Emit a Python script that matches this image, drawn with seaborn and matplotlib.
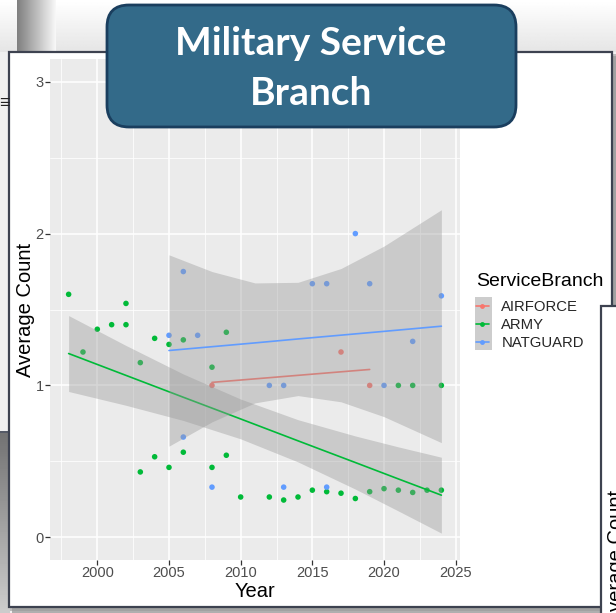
import numpy as np
import pandas as pd
import seaborn as sns
import matplotlib.pyplot as plt
from matplotlib.patches import Rectangle, FancyBboxPatch
from matplotlib.lines import Line2D

# ------------------------------------------------------------------------------
# points (average count per year)
air_years = [2008, 2017, 2019]
air_vals = [1.0, 1.22, 1.0]

army_years = [1998, 1999, 2000, 2001, 2002, 2002, 2003, 2003, 2004, 2004, 2005, 2005,
              2006, 2006, 2008, 2008, 2009, 2009, 2010, 2012, 2013, 2014, 2015, 2016,
              2017, 2018, 2019, 2020, 2021, 2021, 2022, 2022, 2023, 2024, 2024]
army_vals = [1.60, 1.22, 1.37, 1.40, 1.54, 1.40, 1.15, 0.43, 1.31, 0.53, 1.27, 0.46,
             1.30, 0.56, 1.12, 0.46, 1.35, 0.54, 0.265, 0.265, 0.245, 0.265, 0.31, 0.30,
             0.29, 0.255, 0.30, 0.32, 0.31, 1.0, 0.295, 1.0, 0.31, 0.31, 1.0]

nat_years = [2005, 2006, 2006, 2007, 2008, 2012, 2013, 2013, 2015, 2016, 2016, 2018,
             2019, 2020, 2022, 2024]
nat_vals = [1.33, 1.75, 0.66, 1.33, 0.33, 1.0, 1.0, 0.33, 1.67, 1.67, 0.33, 2.0,
            1.67, 1.0, 1.29, 1.59]

# linear trends and their confidence bands
air_fit_years = [2008, 2019]
air_fit = [1.02, 1.105]

army_fit_years = [1998, 2002, 2006, 2010, 2014, 2018, 2021, 2024]
army_fit = [1.21, 1.066, 0.922, 0.779, 0.635, 0.492, 0.384, 0.277]
army_lo = [0.96, 0.869, 0.769, 0.648, 0.496, 0.317, 0.173, 0.027]
army_hi = [1.46, 1.263, 1.075, 0.910, 0.774, 0.667, 0.595, 0.527]

nat_fit_years = [2005, 2008, 2011, 2014, 2017, 2020, 2024]
nat_fit = [1.23, 1.255, 1.28, 1.306, 1.331, 1.356, 1.39]
nat_lo = [0.60, 0.76, 0.885, 0.933, 0.892, 0.794, 0.623]
nat_hi = [1.86, 1.75, 1.675, 1.679, 1.77, 1.918, 2.157]

branches = ['AIRFORCE', 'ARMY', 'NATGUARD']
colors = ['#F8766D', '#00BA38', '#619CFF']
pal = dict(zip(branches, colors))

pts = pd.concat([
    pd.DataFrame({'Year': air_years, 'Count': air_vals, 'ServiceBranch': 'AIRFORCE'}),
    pd.DataFrame({'Year': army_years, 'Count': army_vals, 'ServiceBranch': 'ARMY'}),
    pd.DataFrame({'Year': nat_years, 'Count': nat_vals, 'ServiceBranch': 'NATGUARD'}),
])

# ------------------------------------------------------------------------------
sns.set_theme(style='darkgrid', rc={'axes.facecolor': '#EBEBEB', 'grid.color': 'white'})
plt.rcParams['font.family'] = ['Liberation Sans', 'DejaVu Sans']

W, H = 616, 613
fig = plt.figure(figsize=(W / 100, H / 100), dpi=100)
fig.patch.set_facecolor('#F1F1F1')

# slide background (pixel coordinates)
bg = fig.add_axes([0, 0, 1, 1], zorder=0)
bg.axis('off')
top = np.linspace(1.0, 0.90, 40)[:, None] * np.ones((1, 2))
bg.imshow(top, extent=(0, W, 52, 0), origin='upper', aspect='auto', cmap='gray',
          vmin=0, vmax=1, interpolation='bilinear')
grad = np.ones((2, 1)) * np.linspace(0.50, 0.97, 40)[None, :]
bg.imshow(grad, extent=(17, 56, 52, 0), origin='upper', aspect='auto', cmap='gray',
          vmin=0, vmax=1, interpolation='bilinear')
grad2 = np.linspace(0.45, 0.80, 40)[:, None] * np.ones((1, 2))
bg.imshow(grad2, extent=(0, 10, H, 432), origin='upper', aspect='auto', cmap='gray',
          vmin=0, vmax=1, interpolation='bilinear')
bg.add_patch(Rectangle((0, 52), 9, 380, fc='#F0F0F0', ec='none'))
bg.add_patch(Rectangle((0, 431), 9, 2, fc='#555A66', ec='none'))
# card shadow
bg.add_patch(Rectangle((12, 56), 604, 557, fc='#7A7A7A', ec='none', alpha=0.55))
bg.add_patch(Rectangle((10, 54), 606, 557, fc='#9A9A9A', ec='none', alpha=0.6))
bg.add_patch(Rectangle((9, 52), 603, 555, fc='white', ec='#3D4250', lw=1.6))
bg.add_patch(Rectangle((475, 297), 17, 53, fc='#CDCDCD', ec='none'))
bg.set_xlim(0, W)
bg.set_ylim(H, 0)

# ------------------------------------------------------------------------------
ax = fig.add_axes([50 / W, 1 - 560 / H, 410 / W, 501 / H], zorder=1)
ax.set_facecolor('#EBEBEB')

sns.scatterplot(data=pts, x='Year', y='Count', hue='ServiceBranch', hue_order=branches,
                palette=pal, s=16, linewidth=0, legend=False, ax=ax, zorder=2)

lw = 1.2
sns.lineplot(x=air_fit_years, y=air_fit, color=pal['AIRFORCE'], linewidth=lw, ax=ax, zorder=3)

ax.fill_between(army_fit_years, army_lo, army_hi, color='#999999', alpha=0.4, lw=0, zorder=4)
sns.lineplot(x=army_fit_years, y=army_fit, color=pal['ARMY'], linewidth=lw, ax=ax, zorder=5)

ax.fill_between(nat_fit_years, nat_lo, nat_hi, color='#999999', alpha=0.4, lw=0, zorder=6)
sns.lineplot(x=nat_fit_years, y=nat_fit, color=pal['NATGUARD'], linewidth=lw, ax=ax, zorder=7)

ax.set_xlim(1996.7, 2025.3)
ax.set_ylim(-0.15, 3.15)
ax.set_xticks([2000, 2005, 2010, 2015, 2020, 2025])
ax.set_yticks([0, 1, 2, 3])
ax.set_xticks(np.arange(1997.5, 2025, 5), minor=True)
ax.set_yticks([0.5, 1.5, 2.5], minor=True)
ax.grid(which='major', color='white', lw=1.1)
ax.grid(which='minor', color='white', lw=0.55)
ax.tick_params(which='minor', length=0)
ax.tick_params(which='major', length=3.5, width=0.9, color='#333333', labelsize=10.5,
               labelcolor='#4D4D4D', pad=1, bottom=True, left=True)
for s in ax.spines.values():
    s.set_visible(False)

ax.set_xlabel('Year', fontsize=14.5, color='black')
ax.set_ylabel('Average Count', fontsize=14.5, color='black')
ax.xaxis.set_label_coords(0.5, -0.044)
ax.yaxis.set_label_coords(-0.037, 0.5)

handles = [Line2D([0], [0], color=c, lw=lw, marker='o', markersize=3.5, markeredgewidth=0)
           for c in colors]
ax.legend(handles, branches, loc='upper left',
          bbox_to_anchor=(476 / W, 1 - 300 / H), bbox_transform=fig.transFigure,
          frameon=False, fontsize=10.7, handlelength=0.85, handletextpad=0.85,
          labelspacing=0.27, borderpad=0, borderaxespad=0)
fig.text(476 / W, 1 - 282 / H, 'ServiceBranch', fontsize=14, ha='left', va='center',
         color='black')

# ------------------------------------------------------------------------------
ov = fig.add_axes([0, 0, 1, 1], zorder=5)
ov.axis('off')
ov.set_xlim(0, W)
ov.set_ylim(H, 0)
ov.add_patch(Rectangle((601, 306), 20, 310, fc='white', ec='#3D4250', lw=1.6))
ov.text(622, 624, 'Average Count', rotation=90, rotation_mode='anchor', ha='left',
        va='baseline', fontsize=14.5, color='black')
ov.text(-1, 103, '\u2261', fontsize=13, ha='left', va='center', color='#222222')

ov.add_patch(FancyBboxPatch((107, 5), 409, 122, boxstyle='round,pad=0,rounding_size=22',
                            fc='#336A89', ec='#1A3E5E', lw=2))
ov.text(311, 55, 'Military Service', ha='center', va='baseline', color='white',
        fontsize=28, fontweight='bold', family='Lato')
ov.text(311, 105, 'Branch', ha='center', va='baseline', color='white',
        fontsize=28, fontweight='bold', family='Lato')

fig.savefig('out.png', dpi=100)
